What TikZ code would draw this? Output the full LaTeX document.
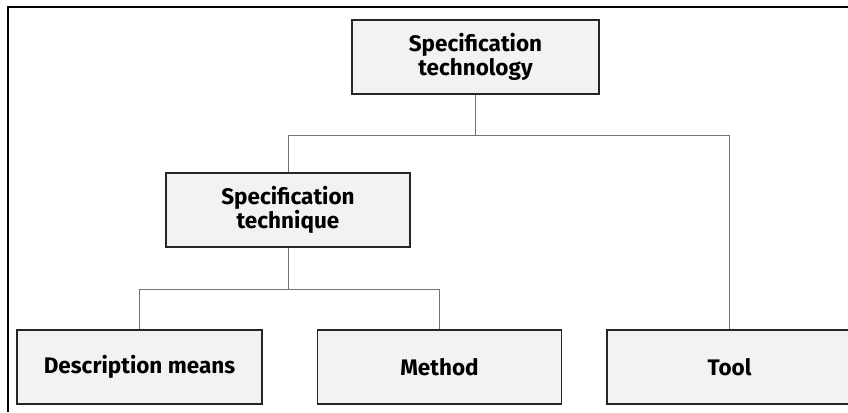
\documentclass[tikz,border=0pt]{standalone}
\usepackage{fontspec}
\setmainfont{Fira Sans}
\usepackage{tikz}
\usetikzlibrary{positioning}

\begin{document}
\begin{tikzpicture}[
  x=1pt, y=-1pt,
  font=\fontsize{22.5}{24}\selectfont\bfseries,
  node distance=0pt and 54pt,
  box/.style={rectangle, draw=black!85, line width=1.5pt, fill=blue!3!gray!10,
              align=center, minimum height=74pt, minimum width=245pt, inner sep=0pt},
  conn/.style={draw=gray!90!black, line width=0.9pt},
  frame/.style={draw=black, line width=2pt}
]
\useasboundingbox (0,0) rectangle (848,412);

% Outer frame (top and left edges only)
\draw[frame] (8,412) |- (848,7);

% Upper levels
\node[box, minimum width=247pt] (tech) at (475.5,57) {Specification\\technology};
\node[box, minimum width=244pt] (techn) at (288,210) {Specification\\technique};

% Bottom row
\node[box] (desc) at (139.5,367) {Description means};
\node[box, minimum width=244pt, right=54pt of desc] (method) {Method};
\node[box, right=44pt of method] (tool) {Tool};

% Connectors: technology -> technique / tool
\draw[conn] (tech.south) -- ++(0,-41pt) -| (techn.north);
\draw[conn] (tech.south) -- ++(0,-41pt) -| (tool.north);

% Connectors: technique -> description means / method
\draw[conn] (techn.south) -- ++(0,-42pt) -| (desc.north);
\draw[conn] (techn.south) -- ++(0,-42pt) -| (method.north);

\end{tikzpicture}
\end{document}
